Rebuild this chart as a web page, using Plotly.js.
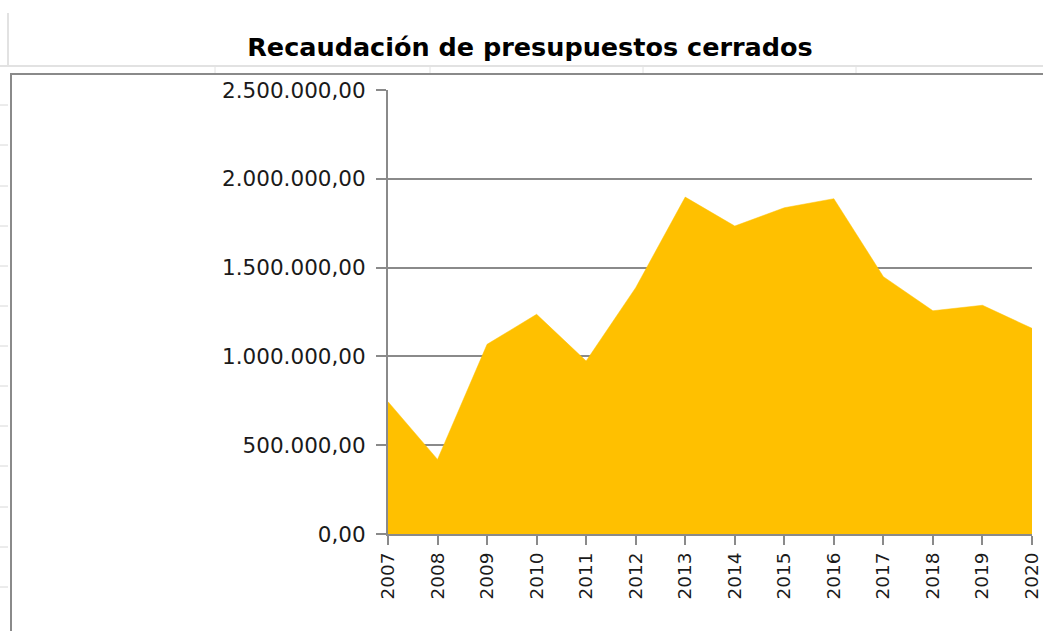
<!DOCTYPE html>
<html>
<head>
<meta charset="utf-8">
<script src="https://cdn.plot.ly/plotly-3.0.1.min.js"></script>
<style>html,body{margin:0;padding:0;background:#fff;}#chart{width:1043px;height:631px;}</style>
</head>
<body>
<div id="chart"></div>
<script>
const years = [2007, 2008, 2009, 2010, 2011, 2012, 2013, 2014, 2015, 2016, 2017, 2018, 2019, 2020];
const recaudacion = [745000, 420000, 1068000, 1237000, 974000, 1387000, 1897000, 1734000, 1837000, 1888000, 1449000, 1257000, 1288000, 1158000];
const yTicks = [0, 500000, 1000000, 1500000, 2000000, 2500000];
const chartTitle = 'Recaudación de presupuestos cerrados';

const L = 388, R = 1032, T = 90, B = 534, W = 1043, H = 631;
const px = v => (v - L) / (R - L);
const py = v => (B - v) / (B - T);

const sheetShapes = [
  {type:'line', xref:'paper', yref:'paper', x0:px(0), x1:px(1043), y0:py(66), y1:py(66), line:{color:'#e2e2e2', width:2}},
  {type:'line', xref:'paper', yref:'paper', x0:px(8), x1:px(8), y0:py(13), y1:py(66), line:{color:'#e2e2e2', width:2}},
  {type:'line', xref:'paper', yref:'paper', x0:px(215), x1:px(215), y0:py(66), y1:py(73), line:{color:'#e2e2e2', width:1}},
  {type:'line', xref:'paper', yref:'paper', x0:px(430), x1:px(430), y0:py(66), y1:py(73), line:{color:'#e2e2e2', width:1}},
  {type:'line', xref:'paper', yref:'paper', x0:px(643), x1:px(643), y0:py(66), y1:py(73), line:{color:'#e2e2e2', width:1}},
  {type:'line', xref:'paper', yref:'paper', x0:px(856), x1:px(856), y0:py(66), y1:py(73), line:{color:'#e2e2e2', width:1}},
  {type:'line', xref:'paper', yref:'paper', x0:px(10), x1:px(1043), y0:py(74), y1:py(74), line:{color:'#8a8a8a', width:2}},
  {type:'line', xref:'paper', yref:'paper', x0:px(11), x1:px(11), y0:py(74), y1:py(631), line:{color:'#8a8a8a', width:2}}
];
[105, 145, 186, 226, 266, 306, 346, 386, 426, 466, 507, 547, 587].forEach(y => {
  sheetShapes.push({type:'line', xref:'paper', yref:'paper', x0:px(0), x1:px(8), y0:py(y), y1:py(y), line:{color:'#d8d8d8', width:1}});
});

const trace = {
  x: years,
  y: recaudacion,
  type: 'scatter',
  mode: 'lines',
  fill: 'tozeroy',
  fillcolor: '#FFC000',
  line: {color: '#FFC000', width: 0.5},
  hoverinfo: 'x+y'
};

const yFont = {family: 'DejaVu Sans, Verdana, sans-serif', size: 21.5, color: '#1a1a1a'};
const xFont = {family: 'DejaVu Sans, Verdana, sans-serif', size: 18.5, color: '#1a1a1a'};

const layout = {
  width: W, height: H,
  margin: {l: L, r: W - R, t: T, b: H - B, pad: 0},
  paper_bgcolor: '#ffffff',
  plot_bgcolor: '#ffffff',
  separators: ',.',
  showlegend: false,
  title: {
    text: '<b>' + chartTitle + '</b>',
    font: {family: 'DejaVu Sans, Verdana, sans-serif', size: 25.5, color: '#000'},
    x: 530 / W, xanchor: 'center', xref: 'container',
    y: 1 - 47 / H, yanchor: 'middle', yref: 'container'
  },
  xaxis: {
    type: 'linear',
    range: [2007, 2020],
    tickvals: years,
    ticktext: years.map(String),
    tickangle: -90,
    ticks: 'outside', ticklen: 9, tickwidth: 2, tickcolor: '#8a8a8a',
    showline: true, linecolor: '#8a8a8a', linewidth: 2,
    showgrid: false, zeroline: false,
    tickfont: xFont,
    fixedrange: true
  },
  yaxis: {
    range: [0, 2500000],
    tickvals: yTicks,
    tickformat: ',.2f',
    ticks: 'outside', ticklen: 10, tickwidth: 2, tickcolor: '#8a8a8a',
    showline: true, linecolor: '#8a8a8a', linewidth: 2,
    showgrid: true, gridcolor: '#8a8a8a', gridwidth: 2,
    zeroline: false,
    tickfont: yFont,
    ticklabelstandoff: 6,
    fixedrange: true
  },
  shapes: sheetShapes
};

Plotly.newPlot('chart', [trace], layout, {displayModeBar: false, staticPlot: true});
</script>
</body>
</html>
